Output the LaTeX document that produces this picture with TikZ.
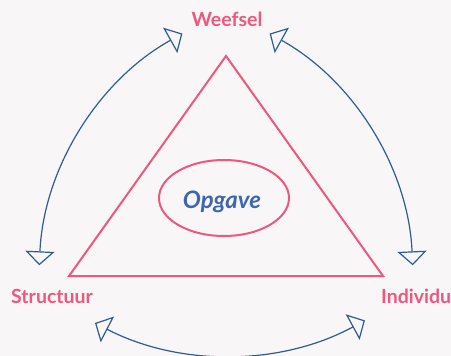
\documentclass[tikz,border=0pt]{standalone}
\usepackage{fontspec}
\setmainfont{Lato}
\usetikzlibrary{arrows.meta,shapes.geometric}
\definecolor{bgc}{HTML}{F8F6F7}
\definecolor{pinkc}{HTML}{EE587E}
\definecolor{bluec}{HTML}{2F5B98}
\definecolor{textblue}{HTML}{3D66B2}
\begin{document}
\begin{tikzpicture}[x=1pt,y=-1pt,
  lbl/.style={inner sep=0pt,text=pinkc,font=\bfseries\fontsize{19.5}{22}\selectfont},
  tri/.style={draw=pinkc,line width=2pt,line join=miter},
  cycarrow/.style={draw=bluec,line width=1.2pt,{Triangle[open,length=14pt,width=29pt]}-{Triangle[open,length=14pt,width=29pt]}}]
\fill[bgc] (0,0) rectangle (451,356);
\useasboundingbox (0,0) rectangle (451,356);
% triangle
\coordinate (ta) at (226,56);
\coordinate (tl) at (69,276);
\coordinate (tr) at (383,276);
\draw[tri] (ta) -- (tl) -- (tr) -- cycle;
% ellipse and centre text
\node[ellipse,draw=pinkc,line width=2pt,minimum width=130pt,minimum height=76pt,inner sep=0pt] (ell) at (224,198) {};
\node[anchor=base,inner sep=0pt,text=textblue,font=\bfseries\itshape\fontsize{24}{28}\selectfont] (opgave) at (222,208) {Opgave};
% labels
\node[lbl,anchor=base] (weefsel) at (227,27) {Weefsel};
\node[lbl,anchor=base west] (structuur) at (11,303) {Structuur};
\node[lbl,anchor=base west] (individu) at (381,303) {Individu};
% arrow end coordinates
\coordinate (la) at (39.3,265.3);
\coordinate (ra) at (412.7,265.3);
\coordinate (ba) at (95,323);
% arcs
\draw[cycarrow] (la) arc[start angle=182.6,end angle=240.8,radius=280];
\draw[cycarrow] (ra) arc[start angle=357.4,end angle=299.2,radius=280];
\draw[cycarrow] (ba) arc[start angle=117.4,end angle=61.5,radius=288];
\end{tikzpicture}
\end{document}
